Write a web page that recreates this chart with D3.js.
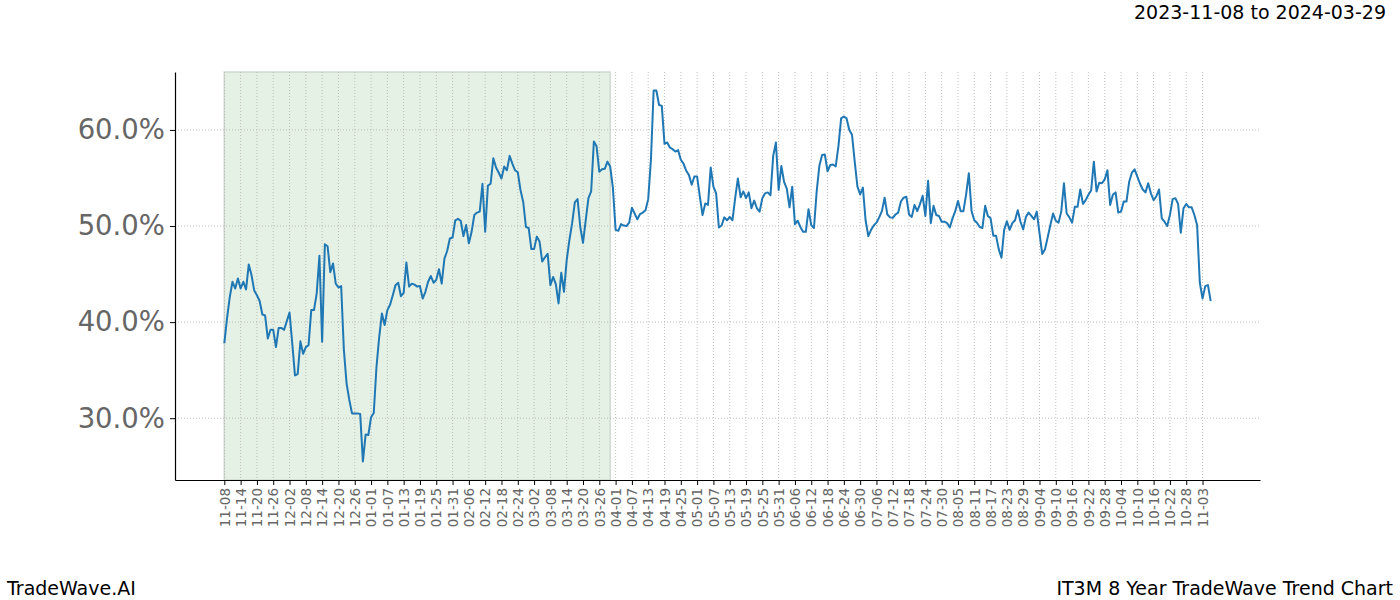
<!DOCTYPE html>
<html>
<head>
<meta charset="utf-8">
<script src="https://cdn.jsdelivr.net/npm/d3@7"></script>
<style>
body { margin: 0; background: #fff; }
svg { font-family: "DejaVu Sans", sans-serif; }
</style>
</head>
<body>
<script>
// tick labels, one every 6 days starting at day 0
var tickLabels = ["11-08","11-14","11-20","11-26","12-02","12-08","12-14","12-20","12-26","01-01",
  "01-07","01-13","01-19","01-25","01-31","02-06","02-12","02-18","02-24","03-02",
  "03-08","03-14","03-20","03-26","04-01","04-07","04-13","04-19","04-25","05-01",
  "05-07","05-13","05-19","05-25","05-31","06-06","06-12","06-18","06-24","06-30",
  "07-06","07-12","07-18","07-24","07-30","08-05","08-11","08-17","08-23","08-29",
  "09-04","09-10","09-16","09-22","09-28","10-04","10-10","10-16","10-22","10-28","11-03"];
var tickStep = 6;

// daily trend values (%), day 0 = 11-08
var trendValues = [
  37.8,40.4,42.6,44.2,43.5,44.55,43.5,44.2,43.4,46.0,
  44.9,43.3,42.8,42.2,40.8,40.7,38.3,39.2,39.2,37.4,
  39.4,39.4,39.2,40.1,41.0,37.8,34.45,34.6,38.0,36.7,
  37.4,37.6,41.25,41.25,43.0,46.9,37.95,48.1,47.9,45.2,
  46.1,44.0,43.6,43.75,37.1,33.6,31.9,30.5,30.5,30.5,
  30.45,25.5,28.3,28.25,30.1,30.55,35.35,38.45,40.9,39.7,
  41.25,41.8,42.8,43.85,44.1,42.7,43.05,46.2,43.7,44.0,
  43.9,43.7,43.75,42.45,43.15,44.2,44.8,44.1,44.4,45.5,
  44.0,46.6,47.4,48.7,48.8,50.6,50.75,50.55,48.95,50.1,
  48.2,49.4,51.15,51.4,51.5,54.4,49.4,54.2,54.4,57.05,
  56.1,55.55,54.95,56.2,55.8,57.3,56.5,55.8,55.6,53.75,
  52.5,49.9,49.8,47.6,47.6,48.9,48.4,46.3,46.75,47.1,
  43.85,44.7,43.95,41.95,45.15,43.15,46.45,48.55,50.3,52.45,
  52.8,49.9,48.25,50.6,52.9,53.6,58.8,58.3,55.65,55.9,
  55.95,56.7,56.2,54.0,49.6,49.5,50.2,50.05,50.0,50.35,
  51.9,51.3,50.7,51.25,51.4,51.65,52.8,56.9,64.1,64.1,
  62.6,62.5,58.55,58.7,58.15,58.0,57.75,57.9,56.9,56.5,
  55.75,55.3,54.3,55.15,55.15,53.05,51.15,52.35,52.2,56.1,
  54.1,53.4,49.85,50.05,50.9,50.6,50.95,50.6,52.9,54.95,
  53.0,53.6,52.9,53.5,51.85,52.65,51.85,51.5,52.9,53.4,
  53.5,53.2,57.3,58.7,53.75,56.25,54.6,53.9,51.95,54.1,
  50.2,50.55,49.9,49.4,49.4,51.75,50.1,49.8,53.6,56.3,
  57.4,57.45,55.7,56.35,56.4,56.2,58.3,61.2,61.4,61.2,
  60.0,59.5,56.7,54.1,53.3,54.0,50.6,48.95,49.6,50.05,
  50.35,50.9,51.55,52.95,51.2,50.9,50.85,51.2,51.4,52.55,
  52.95,53.05,51.2,50.95,52.2,51.55,52.25,53.15,51.05,
  54.7,50.3,52.1,51.15,51.05,50.45,50.45,50.3,49.85,50.8,
  51.55,52.6,51.55,51.55,53.3,55.5,51.55,50.6,50.35,49.9,
  49.8,52.1,51.05,50.8,49.0,49.0,47.6,46.7,49.6,50.5,
  49.6,50.3,50.6,51.65,50.45,49.65,50.95,51.4,51.05,50.7,
  51.5,49.25,47.1,47.55,48.8,50.1,51.3,50.55,50.35,51.5,
  54.45,51.3,50.9,50.35,52.0,52.0,53.8,52.3,52.7,53.25,
  53.7,56.7,53.6,54.5,54.45,54.85,55.8,52.2,53.25,53.5,
  51.4,51.5,52.55,52.55,54.6,55.55,55.9,55.15,54.4,53.8,
  53.5,54.45,53.4,52.7,53.1,53.8,50.8,50.45,50.0,
  51.15,52.8,52.9,52.3,49.3,51.85,52.3,51.95,51.95,51.15,
  50.1,44.1,42.45,43.75,43.85,42.2
];

// shaded window (day indices)
var shadeStart = 0, shadeEnd = 142;
var yTicks = [30, 40, 50, 60];

var width = 1400, height = 600;
var plotL = 175, plotR = 1260, plotT = 72, plotB = 480;

var svg = d3.select("body").append("svg").attr("width", width).attr("height", height);

var n = trendValues.length - 1;
var pad = n * 0.05;
var x = d3.scaleLinear().domain([-pad, n + pad]).range([plotL, plotR]);
var ymin = d3.min(trendValues), ymax = d3.max(trendValues);
var ypad = (ymax - ymin) * 0.05;
var y = d3.scaleLinear().domain([ymin - ypad, ymax + ypad]).range([plotB, plotT]);

// shaded region
svg.append("rect")
  .attr("x", x(shadeStart)).attr("y", plotT)
  .attr("width", x(shadeEnd) - x(shadeStart)).attr("height", plotB - plotT)
  .attr("fill", "#e6f1e6").attr("stroke", "#cfd8cf").attr("stroke-width", 1.5);

// grid
var xTickVals = d3.range(0, tickLabels.length).map(function(i){ return i * tickStep; });
svg.append("g").selectAll("line").data(xTickVals).enter().append("line")
  .attr("x1", function(d){ return x(d); }).attr("x2", function(d){ return x(d); })
  .attr("y1", plotT).attr("y2", plotB)
  .attr("stroke", "#b0b0b0").attr("stroke-width", 0.8).attr("stroke-dasharray", "1,2");
svg.append("g").selectAll("line").data(yTicks).enter().append("line")
  .attr("x1", plotL).attr("x2", plotR)
  .attr("y1", function(d){ return y(d); }).attr("y2", function(d){ return y(d); })
  .attr("stroke", "#b0b0b0").attr("stroke-width", 0.8).attr("stroke-dasharray", "1,2");

// line
var line = d3.line().x(function(d, i){ return x(i); }).y(function(d){ return y(d); });
svg.append("path").datum(trendValues)
  .attr("d", line).attr("fill", "none")
  .attr("stroke", "#1f77b4").attr("stroke-width", 2).attr("stroke-linejoin", "round");

// axes
var xAxis = d3.axisBottom(x).tickValues(xTickVals).tickSize(5).tickSizeOuter(0)
  .tickFormat(function(d){ return tickLabels[d / tickStep]; });
var gx = svg.append("g").attr("transform", "translate(0," + plotB + ")").call(xAxis);
gx.select(".domain").attr("stroke", "#000").attr("stroke-width", 1.2);
gx.selectAll(".tick line").attr("stroke", "#000");
gx.selectAll(".tick text")
  .attr("transform", "rotate(-90)")
  .attr("x", -8).attr("y", 0).attr("dy", "0.35em")
  .style("text-anchor", "end")
  .style("font-size", "13.5px").style("font-family", "DejaVu Sans").attr("fill", "#666");

var yAxis = d3.axisLeft(y).tickValues(yTicks).tickSize(5).tickSizeOuter(0)
  .tickFormat(function(d){ return d.toFixed(1) + "%"; });
var gy = svg.append("g").attr("transform", "translate(" + plotL + ",0)").call(yAxis);
gy.select(".domain").attr("stroke", "#000").attr("stroke-width", 1.2);
gy.selectAll(".tick line").attr("stroke", "#000");
gy.selectAll(".tick text").attr("x", -10)
  .style("font-size", "27.5px").style("font-family", "DejaVu Sans").attr("fill", "#666");

// texts
svg.append("text").attr("x", 1386).attr("y", 19).attr("text-anchor", "end")
  .style("font-size", "19px").text("2023-11-08 to 2024-03-29");
svg.append("text").attr("x", 7).attr("y", 595).style("font-size", "19px").text("TradeWave.AI");
svg.append("text").attr("x", 1393).attr("y", 595).attr("text-anchor", "end")
  .style("font-size", "19px").text("IT3M 8 Year TradeWave Trend Chart");
</script>
</body>
</html>
